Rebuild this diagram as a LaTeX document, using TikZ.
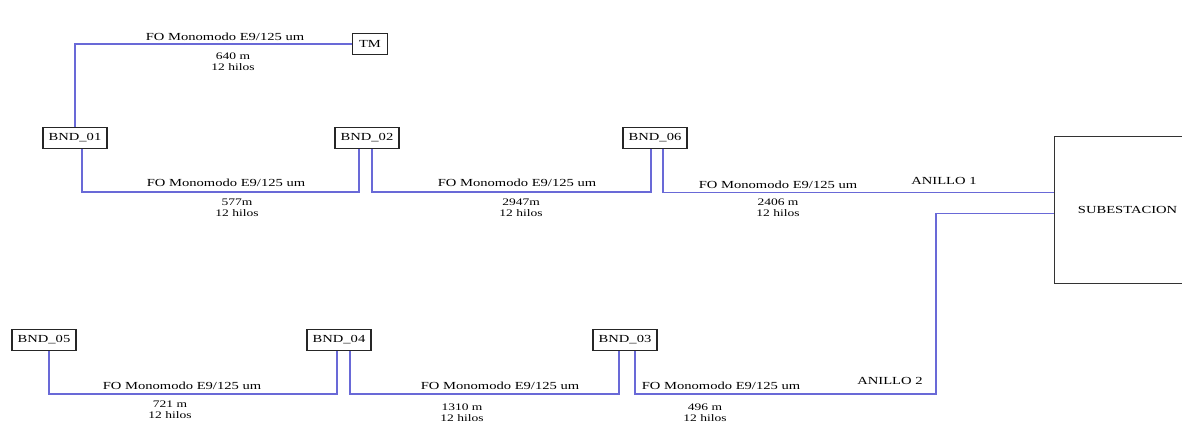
\documentclass[tikz,border=0pt]{standalone}
\usepackage{fontspec}
\setmainfont{Liberation Serif}[FakeStretch=1.35]
\definecolor{fib}{RGB}{105,105,215}
\begin{document}
\begin{tikzpicture}[x=1pt,y=-1pt,
  bnd/.style={draw=black!85, line width=1.4pt, fill=white, minimum width=64pt, minimum height=21pt, inner sep=0pt, text=black, font=\fontsize{10.8}{11}\selectfont},
  subst/.style={draw=black!80, line width=1.2pt, minimum width=146pt, minimum height=147pt, inner sep=0pt, text=black, font=\fontsize{10.8}{11}\selectfont},
  fiber/.style={draw=fib, line width=1.5pt},
  lbl/.style={font=\fontsize{10.8}{11}\selectfont, inner sep=0pt, text=black},
  dist/.style={font=\fontsize{10}{11}\selectfont, align=center, inner sep=0pt, text=black}]
\useasboundingbox (0,0) rectangle (1182,443);
% nodes
\node[bnd, minimum width=35pt] (tm) at (370,44) {TM};
\node[bnd] (b1) at (75,138) {BND\_01};
\node[bnd] (b2) at (367,138) {BND\_02};
\node[bnd] (b6) at (655,138) {BND\_06};
\node[bnd] (b5) at (44,340) {BND\_05};
\node[bnd] (b4) at (339,340) {BND\_04};
\node[bnd] (b3) at (625,340) {BND\_03};
\node[subst, anchor=north west] (sub) at (1054,136) {SUBESTACION};
% bend coordinates
\coordinate (r1) at (200,192);
\coordinate (r2) at (500,192);
\coordinate (r3) at (200,394);
\coordinate (r4) at (480,394);
\coordinate (r5) at (800,394);
\coordinate (c2) at (936,300);
% connectors
\draw[fiber] (tm.west) -| (b1.north);
\draw[fiber] ([xshift=7pt]b1.south) |- (r1) -| ([xshift=-8pt]b2.south);
\draw[fiber] ([xshift=5pt]b2.south) |- (r2) -| ([xshift=-4pt]b6.south);
\draw[fiber] ([xshift=8pt]b6.south) |- ([yshift=17.5pt]sub.west);
\draw[fiber] ([xshift=5pt]b5.south) |- (r3) -| ([xshift=-2pt]b4.south);
\draw[fiber] ([xshift=11pt]b4.south) |- (r4) -| ([xshift=-6pt]b3.south);
\draw[fiber] ([xshift=10pt]b3.south) |- (r5) -| (c2) |- ([yshift=-3.5pt]sub.west);
% labels
\node[lbl] (t0) at (225,37) {FO Monomodo E9/125 um};
\node[dist] (d0) at (233,62) {640 m\\12 hilos};
\node[lbl] (t1) at (226,183) {FO Monomodo E9/125 um};
\node[dist] (d1) at (237,208) {577m\\12 hilos};
\node[lbl] (t2) at (517,183) {FO Monomodo E9/125 um};
\node[dist] (d2) at (521,208) {2947m\\12 hilos};
\node[lbl] (t3) at (778,185) {FO Monomodo E9/125 um};
\node[dist] (d3) at (778,208) {2406 m\\12 hilos};
\node[lbl] (a1) at (944,181) {ANILLO 1};
\node[lbl] (t4) at (182,386) {FO Monomodo E9/125 um};
\node[dist] (d4) at (170,410) {721 m\\12 hilos};
\node[lbl] (t5) at (500,386) {FO Monomodo E9/125 um};
\node[dist] (d5) at (462,413) {1310 m\\12 hilos};
\node[lbl] (t6) at (721,386) {FO Monomodo E9/125 um};
\node[dist] (d6) at (705,413) {496 m\\12 hilos};
\node[lbl] (a2) at (890,381) {ANILLO 2};
\end{tikzpicture}
\end{document}
